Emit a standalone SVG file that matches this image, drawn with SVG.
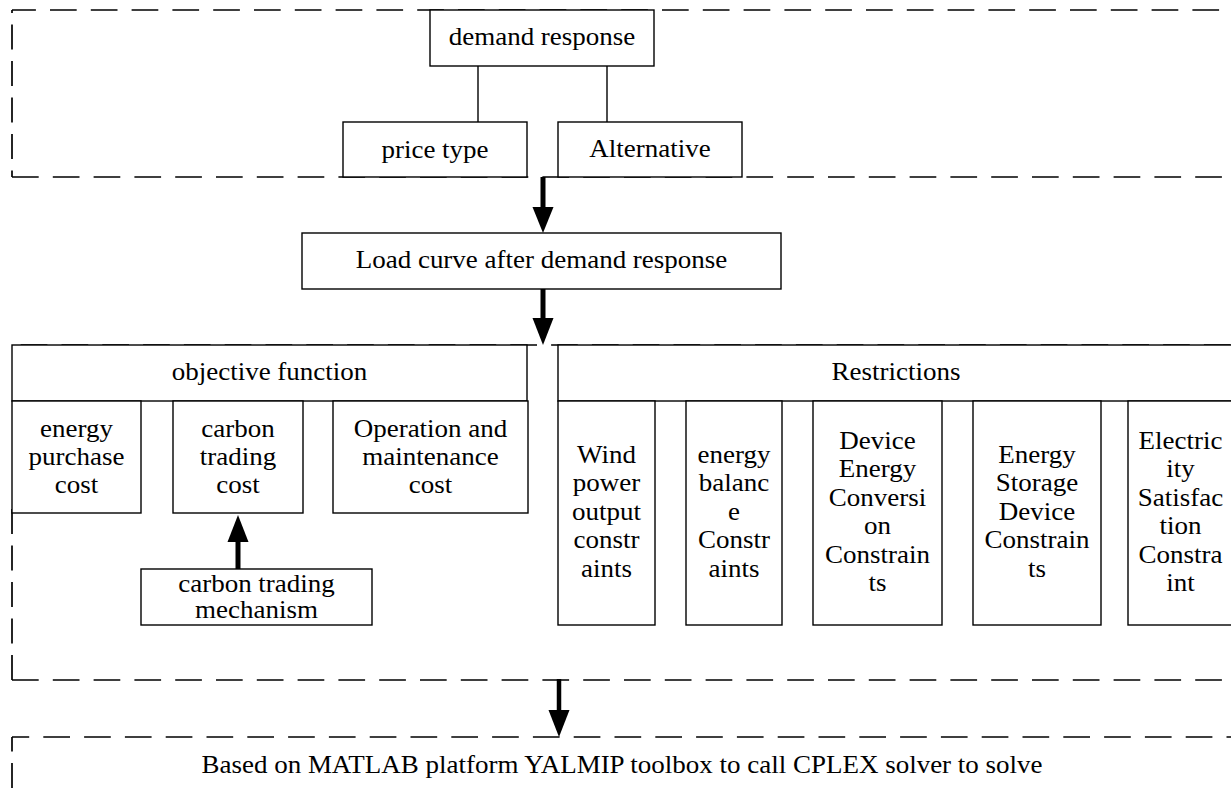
<svg xmlns="http://www.w3.org/2000/svg" width="1231" height="790" viewBox="0 0 1231 790">
<style>
.bx{fill:#fff;stroke:#000;stroke-width:1.4}
.dh{fill:none;stroke:#000;stroke-width:1.7;stroke-dasharray:26.7 14.1}
.dv{fill:none;stroke:#000;stroke-width:1.7;stroke-dasharray:25 11.5}
.ln{fill:none;stroke:#000;stroke-width:1.4}
.sh{fill:none;stroke:#000;stroke-width:5}
.hd{fill:#000;stroke:none}
text{font-family:"Liberation Serif","Times New Roman",serif;font-size:25px;fill:#000;text-anchor:middle}
</style>
<rect width="1231" height="790" fill="#fff"/>
<g id="regions">
<path class="dh" d="M12,10 H1240" stroke-dashoffset="2.8"/>
<path class="dv" d="M12,10 V177" stroke-dashoffset="22"/>
<path class="dh" d="M12,177 H1240"/>
<path class="dh" d="M12,345 H1240" stroke-dashoffset="32.1"/>
<path class="dv" d="M12,509 V680"/>
<path class="dh" d="M12,680 H1240"/>
<path class="dh" d="M12,737 H1240" stroke-dashoffset="9.5"/>
<path class="dv" d="M12,737 V800" stroke-dashoffset="10.5"/>
</g>
<g id="connectors">
<line class="ln" x1="478" y1="66" x2="478" y2="122"/>
<line class="ln" x1="607" y1="66" x2="607" y2="122"/>
<line class="sh" x1="543" y1="177" x2="543" y2="210"/>
<polygon class="hd" points="532.5,207 553.5,207 543,233"/>
<line class="sh" x1="543" y1="289" x2="543" y2="321"/>
<polygon class="hd" points="532.5,318 553.5,318 543,345"/>
<line class="sh" x1="559" y1="679" x2="559" y2="713" style="stroke-width:4.5"/>
<polygon class="hd" points="548.5,710 569.5,710 559,737"/>
<line class="sh" x1="238" y1="570" x2="238" y2="539"/>
<polygon class="hd" points="227.5,542 248.5,542 238,515"/>
</g>
<g id="demand-response"><rect class="bx" x="430" y="10" width="224" height="56"/><text transform="translate(542 0) scale(1.08 1)"><tspan x="0" y="45">demand response</tspan></text></g>
<g id="price-type"><rect class="bx" x="343" y="122" width="184" height="55"/><text transform="translate(435 0) scale(1.08 1)"><tspan x="0" y="158">price type</tspan></text></g>
<g id="alternative"><rect class="bx" x="558" y="122" width="184" height="55"/><text transform="translate(650 0) scale(1.08 1)"><tspan x="0" y="157">Alternative</tspan></text></g>
<g id="load-curve"><rect class="bx" x="302" y="233" width="479" height="56"/><text transform="translate(541.5 0) scale(1.08 1)"><tspan x="0" y="268">Load curve after demand response</tspan></text></g>
<g id="objective-function"><rect class="bx" x="12" y="345" width="515" height="56"/><text transform="translate(269.5 0) scale(1.08 1)"><tspan x="0" y="380">objective function</tspan></text></g>
<g id="energy-purchase-cost"><rect class="bx" x="12" y="401" width="129" height="112"/><text transform="translate(76.5 0) scale(1.08 1)"><tspan x="0" y="437">energy</tspan><tspan x="0" y="465">purchase</tspan><tspan x="0" y="493">cost</tspan></text></g>
<g id="carbon-trading-cost"><rect class="bx" x="173" y="401" width="130" height="112"/><text transform="translate(238 0) scale(1.08 1)"><tspan x="0" y="437">carbon</tspan><tspan x="0" y="465">trading</tspan><tspan x="0" y="493">cost</tspan></text></g>
<g id="om-cost"><rect class="bx" x="333" y="401" width="195" height="112"/><text transform="translate(430.5 0) scale(1.08 1)"><tspan x="0" y="437">Operation and</tspan><tspan x="0" y="465">maintenance</tspan><tspan x="0" y="493">cost</tspan></text></g>
<g id="carbon-trading-mechanism"><rect class="bx" x="141" y="569" width="231" height="56"/><text transform="translate(256.5 0) scale(1.08 1)"><tspan x="0" y="592">carbon trading</tspan><tspan x="0" y="618">mechanism</tspan></text></g>
<g id="restrictions"><rect class="bx" x="558" y="345" width="676" height="56"/><text transform="translate(896 0) scale(1.08 1)"><tspan x="0" y="380">Restrictions</tspan></text></g>
<g id="wind"><rect class="bx" x="558" y="401" width="97" height="224"/><text transform="translate(606.5 0) scale(1.08 1)"><tspan x="0" y="463">Wind</tspan><tspan x="0" y="491.5">power</tspan><tspan x="0" y="520">output</tspan><tspan x="0" y="548.5">constr</tspan><tspan x="0" y="577">aints</tspan></text></g>
<g id="energy-balance"><rect class="bx" x="686" y="401" width="96" height="224"/><text transform="translate(734 0) scale(1.08 1)"><tspan x="0" y="463">energy</tspan><tspan x="0" y="491.5">balanc</tspan><tspan x="0" y="520">e</tspan><tspan x="0" y="548.5">Constr</tspan><tspan x="0" y="577">aints</tspan></text></g>
<g id="device-conversion"><rect class="bx" x="813" y="401" width="129" height="224"/><text transform="translate(877.5 0) scale(1.08 1)"><tspan x="0" y="449">Device</tspan><tspan x="0" y="477.5">Energy</tspan><tspan x="0" y="506">Conversi</tspan><tspan x="0" y="534.5">on</tspan><tspan x="0" y="563">Constrain</tspan><tspan x="0" y="591.5">ts</tspan></text></g>
<g id="energy-storage"><rect class="bx" x="973" y="401" width="128" height="224"/><text transform="translate(1037 0) scale(1.08 1)"><tspan x="0" y="463">Energy</tspan><tspan x="0" y="491.5">Storage</tspan><tspan x="0" y="520">Device</tspan><tspan x="0" y="548.5">Constrain</tspan><tspan x="0" y="577">ts</tspan></text></g>
<g id="electricity-satisfaction"><rect class="bx" x="1128" y="401" width="106" height="224"/><text transform="translate(1180.5 0) scale(1.08 1)"><tspan x="0" y="449">Electric</tspan><tspan x="0" y="477.5">ity</tspan><tspan x="0" y="506">Satisfac</tspan><tspan x="0" y="534.5">tion</tspan><tspan x="0" y="563">Constra</tspan><tspan x="0" y="591.5">int</tspan></text></g>
<g id="solver"><text transform="translate(622 0) scale(1.08 1)"><tspan x="0" y="773">Based on MATLAB platform YALMIP toolbox to call CPLEX solver to solve</tspan></text></g>
</svg>
